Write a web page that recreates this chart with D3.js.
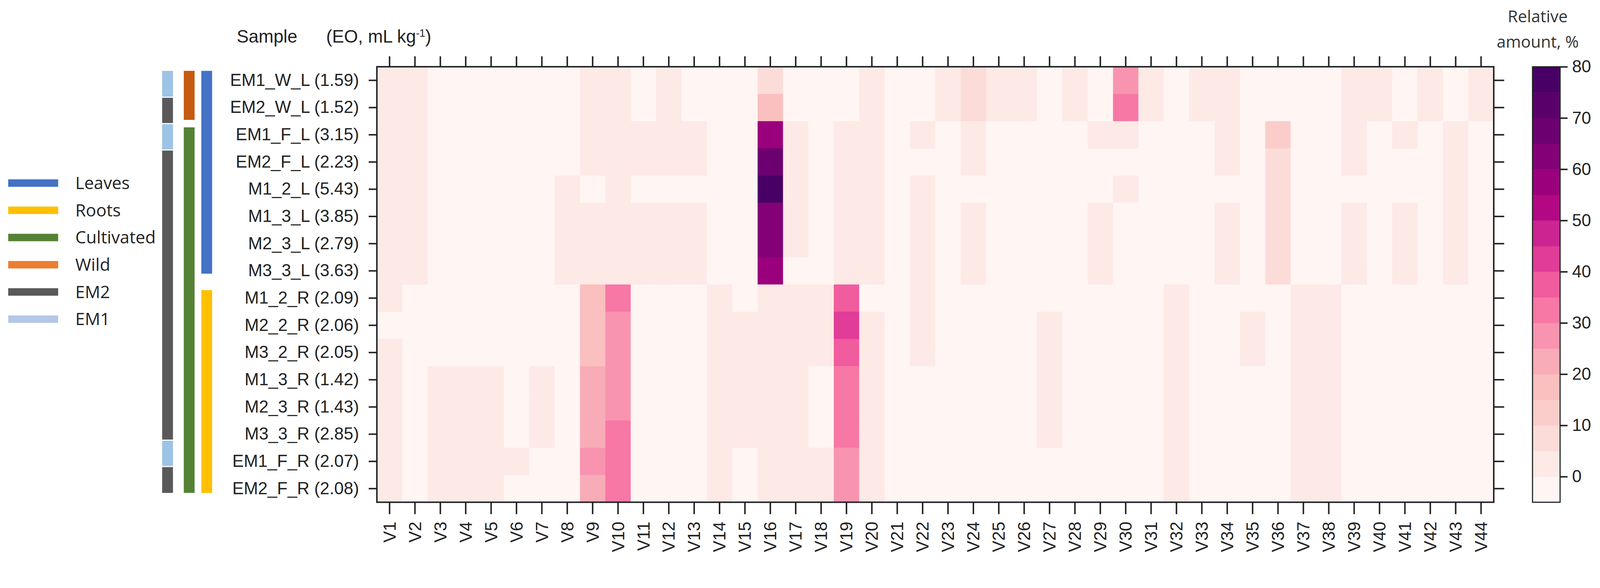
<!DOCTYPE html>
<html><head><meta charset="utf-8">
<script src="https://cdn.jsdelivr.net/npm/d3@7"></script>
<style>html,body{margin:0;padding:0;background:#fff;overflow:hidden}svg{display:block}</style>
</head><body>
<svg id="c" viewBox="0 0 4292 1505" preserveAspectRatio="xMinYMin meet" style="width:100vw;height:auto"></svg>
<script>
const samples = ["EM1_W_L (1.59)","EM2_W_L (1.52)","EM1_F_L (3.15)","EM2_F_L (2.23)","M1_2_L (5.43)","M1_3_L (3.85)","M2_3_L (2.79)","M3_3_L (3.63)","M1_2_R (2.09)","M2_2_R (2.06)","M3_2_R (2.05)","M1_3_R (1.42)","M2_3_R (1.43)","M3_3_R (2.85)","EM1_F_R (2.07)","EM2_F_R (2.08)"];
const compounds = d3.range(1,45).map(i=>"V"+i);
// values per compound (column), 16 samples each
const compoundValues = [
[2,2,2,2,2,2,2,2,2,0,2,2,2,2,2,2],
[2,2,2,2,2,2,2,2,0,0,0,0,0,0,0,0],
[0,0,0,0,0,0,0,0,0,0,0,2,2,2,2,2],
[0,0,0,0,0,0,0,0,0,0,0,2,2,2,2,2],
[0,0,0,0,0,0,0,0,0,0,0,2,2,2,2,2],
[0,0,0,0,0,0,0,0,0,0,0,0,0,0,2,0],
[0,0,0,0,0,0,0,0,0,0,0,2,2,2,0,0],
[0,0,0,0,2,2,2,2,0,0,0,0,0,0,0,0],
[2,2,2,2,0,2,2,2,17,17,17,22,22,22,27,22],
[2,2,2,2,2,2,2,2,32,27,27,27,27,32,32,32],
[0,0,2,2,0,2,2,2,0,0,0,0,0,0,0,0],
[2,2,2,2,0,2,2,2,0,0,0,0,0,0,0,0],
[0,0,2,2,0,2,2,2,0,0,0,0,0,0,0,0],
[0,0,0,0,0,0,0,0,2,2,2,2,2,2,2,2],
[0,0,0,0,0,0,0,0,0,2,2,2,2,2,0,0],
[7,17,57,67,77,62,62,57,2,2,2,2,2,2,2,2],
[0,0,2,2,2,2,2,0,2,2,2,2,2,2,2,2],
[0,0,0,0,0,0,0,0,2,2,2,0,0,0,2,2],
[0,0,2,2,2,2,2,2,37,42,37,32,32,32,27,27],
[2,2,2,2,2,2,2,2,0,2,2,2,2,2,2,2],
[0,0,0,0,0,0,0,0,0,0,0,0,0,0,0,0],
[0,0,2,0,2,2,2,2,2,2,2,0,0,0,0,0],
[2,2,0,0,0,0,0,0,0,0,0,0,0,0,0,0],
[7,7,2,2,0,2,2,2,0,0,0,0,0,0,0,0],
[2,2,0,0,0,0,0,0,0,0,0,0,0,0,0,0],
[2,2,0,0,0,0,0,0,0,0,0,0,0,0,0,0],
[0,0,0,0,0,0,0,0,0,2,2,2,2,2,0,0],
[2,2,0,0,0,0,0,0,0,0,0,0,0,0,0,0],
[0,0,2,0,0,2,2,2,0,0,0,0,0,0,0,0],
[27,32,2,0,2,0,0,0,0,0,0,0,0,0,0,0],
[2,2,0,0,0,0,0,0,0,0,0,0,0,0,0,0],
[0,0,0,0,0,0,0,0,2,2,2,2,2,2,2,2],
[2,2,0,0,0,0,0,0,0,0,0,0,0,0,0,0],
[2,2,2,2,0,2,2,2,0,0,0,0,0,0,0,0],
[0,0,0,0,0,0,0,0,0,2,2,0,0,0,0,0],
[0,0,12,7,7,7,7,7,0,0,0,0,0,0,0,0],
[0,0,0,0,0,0,0,0,2,2,2,2,2,2,2,2],
[0,0,0,0,0,0,0,0,2,2,2,2,2,2,2,2],
[2,2,2,2,0,2,2,2,0,0,0,0,0,0,0,0],
[2,2,0,0,0,0,0,0,0,0,0,0,0,0,0,0],
[0,0,2,0,0,2,2,2,0,0,0,0,0,0,0,0],
[2,2,0,0,0,0,0,0,0,0,0,0,0,0,0,0],
[0,0,2,2,2,2,2,2,0,0,0,0,0,0,0,0],
[2,2,0,0,0,0,0,0,0,0,0,0,0,0,0,0]
];
const colorTicks = [0,10,20,30,40,50,60,70,80];
const bandColors = ["#fff5f2","#fde9e6","#fcdcd9","#fbcdca","#fabfbf","#f8acb7","#f894b0","#f777a5","#f05c9e","#e03c98","#cc2490","#b30884","#9a007b","#830077","#6c0071","#5a006b","#480067"];
const tissue = ["Leaves","Leaves","Leaves","Leaves","Leaves","Leaves","Leaves","Leaves","Roots","Roots","Roots","Roots","Roots","Roots","Roots","Roots"];
const origin = ["Wild","Wild","Cultivated","Cultivated","Cultivated","Cultivated","Cultivated","Cultivated","Cultivated","Cultivated","Cultivated","Cultivated","Cultivated","Cultivated","Cultivated","Cultivated"];
const chemotype = ["EM1","EM2","EM1","EM2","EM2","EM2","EM2","EM2","EM2","EM2","EM2","EM2","EM2","EM2","EM1","EM2"];
const legendItems = ["Leaves","Roots","Cultivated","Wild","EM2","EM1"];
const legendColors = {"Leaves":"#4472c4","Roots":"#ffc000","Cultivated":"#548235","Wild":"#ed7d31","EM2":"#595959","EM1":"#b4c7e7"};
const barColors = {"Leaves":"#4472c4","Roots":"#ffc000","Cultivated":"#548235","Wild":"#c55a11","EM2":"#595959","EM1":"#9dc3e6"};

const svg = d3.select("#c");
const narrow = "'Liberation Sans Narrow','Arial Narrow',sans-serif";
const L=1011,R=4007,T=179,B=1347;
const x = d3.scaleBand().domain(compounds).range([L,R]);
const y = d3.scaleBand().domain(samples).range([T,B]);
const color = d3.scaleQuantize().domain([-5,80]).range(bandColors);
const cval = v => color(v===0 ? -2 : v);

const cells=[];
compoundValues.forEach((col,ci)=>col.forEach((v,ri)=>cells.push({c:compounds[ci],s:samples[ri],v})));
svg.append("g").selectAll("rect").data(cells).join("rect")
 .attr("x",d=>x(d.c)).attr("y",d=>y(d.s)).attr("width",x.bandwidth()+0.6).attr("height",y.bandwidth()+0.6)
 .attr("fill",d=>cval(d.v));
svg.append("rect").attr("x",L).attr("y",T).attr("width",R-L).attr("height",B-T).attr("fill","none").attr("stroke","#222").attr("stroke-width",4);

function style(g,fs){g.select(".domain").remove();g.selectAll("line").attr("stroke","#222").attr("stroke-width",4);
 g.selectAll("text").attr("font-family",narrow).attr("font-size",fs).attr("fill","#222");}
svg.append("g").attr("transform",`translate(0,${T})`).call(d3.axisTop(x).tickSize(28).tickFormat("")).call(g=>style(g,40));
svg.append("g").attr("transform",`translate(0,${B})`).call(d3.axisBottom(x).tickSize(32)).call(g=>style(g,46))
 .selectAll("text").attr("transform","rotate(-90)").attr("text-anchor","end").attr("dy","0.35em").attr("x",-52).attr("y",0);
svg.append("g").attr("transform",`translate(${L},0)`).call(d3.axisLeft(y).tickSize(22).tickPadding(26)).call(g=>style(g,46));
svg.append("g").attr("transform",`translate(${R},0)`).call(d3.axisRight(y).tickSize(28).tickFormat("")).call(g=>style(g,40));

// header
const hdr = svg.append("text").attr("x",635).attr("y",114).attr("font-family",narrow).attr("font-size",48).attr("fill","#222");
hdr.append("tspan").text("Sample");
hdr.append("tspan").attr("x",875).text("(EO, mL kg");
hdr.append("tspan").attr("dy",-16).attr("font-size",28).text("-1");
hdr.append("tspan").attr("dy",16).text(")");

// colorbar
const cy = d3.scaleLinear().domain([-5,80]).range([B,T]);
const cbX=4111, cbW=74;
svg.append("g").selectAll("rect").data(bandColors).join("rect")
 .attr("x",cbX).attr("width",cbW).attr("y",(d,i)=>cy(-5+5*(i+1))).attr("height",(d,i)=>cy(-5+5*i)-cy(-5+5*(i+1))+0.5).attr("fill",d=>d);
svg.append("rect").attr("x",cbX).attr("y",T).attr("width",cbW).attr("height",B-T).attr("fill","none").attr("stroke","#222").attr("stroke-width",3);
svg.append("g").attr("transform",`translate(${cbX+cbW},0)`).call(d3.axisRight(cy).tickValues(colorTicks).tickSize(20).tickPadding(12)).call(g=>style(g,46));
svg.append("text").attr("x",4125).attr("y",60).attr("text-anchor","middle").attr("font-family","'Open Sans',sans-serif").attr("font-size",44).attr("fill","#333").text("Relative");
svg.append("text").attr("x",4125).attr("y",128).attr("text-anchor","middle").attr("font-family","'Open Sans',sans-serif").attr("font-size",44).attr("fill","#333").text("amount, %");

// annotation bars
const by = d3.scaleBand().domain(samples).range([190,1322]);
function segs(arr){const out=[];arr.forEach((k,i)=>{if(out.length&&out[out.length-1].k===k)out[out.length-1].e=i;else out.push({k,s:i,e:i});});return out;}
[[chemotype,435,1.5],[origin,493,10],[tissue,540,22]].forEach(([arr,bx,gap])=>{
 svg.append("g").selectAll("rect").data(segs(arr)).join("rect")
  .attr("x",bx).attr("width",29)
  .attr("y",(d,i)=>by(samples[d.s])+(i>0?gap:0))
  .attr("height",(d,i,n)=>by(samples[d.e])+by.bandwidth()-by(samples[d.s])-(i>0?gap:0)-(i<n.length-1?gap:0))
  .attr("fill",d=>barColors[d.k]);
});

// legend
const ly = d3.scalePoint().domain(legendItems).range([491,856]);
const lg = svg.append("g").selectAll("g").data(legendItems).join("g").attr("transform",d=>`translate(0,${ly(d)})`);
lg.append("rect").attr("x",22).attr("y",-10).attr("width",134).attr("height",20).attr("fill",d=>legendColors[d]);
lg.append("text").attr("x",202).attr("y",16).attr("font-family","'Open Sans',sans-serif").attr("font-size",46).attr("fill","#222").text(d=>d);
</script>
</body></html>
